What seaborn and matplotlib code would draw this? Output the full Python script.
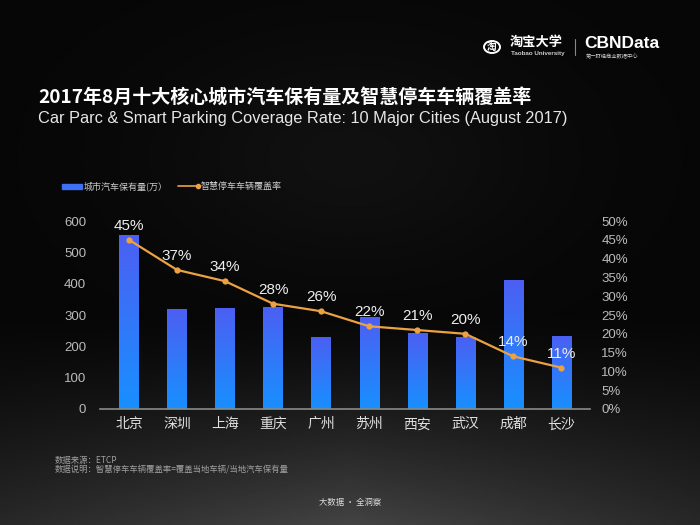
import numpy as np
import pandas as pd
import seaborn as sns
import matplotlib.pyplot as plt
from matplotlib.colors import LinearSegmentedColormap

cities = ['北京', '深圳', '上海', '重庆', '广州', '苏州', '西安', '武汉', '成都', '长沙']
car_parc = [555, 318, 322, 327, 230, 293, 242, 231, 411, 234]
coverage = [45, 37, 34, 28, 26, 22, 21, 20, 14, 11]

df = pd.DataFrame({'city': cities, 'parc': car_parc, 'rate': coverage})

sns.set_theme(style="white")
plt.rcParams['font.family'] = ['Noto Sans CJK SC', 'DejaVu Sans']
latin = ['Liberation Sans', 'DejaVu Sans']

fig = plt.figure(figsize=(7, 5.25), dpi=100)

# background: dark with lighter floor at the bottom
bg = fig.add_axes([0, 0, 1, 1], zorder=-10)
yy, xx = np.mgrid[0:1:300j, 0:1:400j]
glow = np.clip((yy - 0.6) / 0.4, 0, 1) ** 1.3 * (1 - 0.45 * np.abs(xx - 0.5) * 2) * 0.24
top = np.exp(-((xx - 0.5) ** 2 / 0.08 + (yy - 0.3) ** 2 / 0.05)) * 0.04
bg.imshow(0.025 + glow + top, cmap='gray', vmin=0, vmax=1, aspect='auto', extent=[0, 1, 0, 1], origin='upper')
bg.axis('off')

ax = fig.add_axes([0.143, 0.221, 0.70, 0.358])
ax.set_facecolor('none')
sns.barplot(data=df, x='city', y='parc', ax=ax, color='#3f6ff5', width=0.4, saturation=1, linewidth=0)

# vertical gradient inside each bar
cmap = LinearSegmentedColormap.from_list('bars', ['#1890ff', '#4c5ff2'])
grad = np.linspace(0, 1, 256).reshape(-1, 1)
for p in ax.patches:
    x0, w, h = p.get_x(), p.get_width(), p.get_height()
    im = ax.imshow(grad, cmap=cmap, aspect='auto', origin='lower',
                   extent=[x0, x0 + w, 0, h], zorder=p.get_zorder() + 0.1)
    im.set_clip_path(p)

ax.set_xlim(-0.6, 9.6)
ax.set_ylim(0, 600)
ax.set_yticks([0, 100, 200, 300, 400, 500, 600])
ax.set_xlabel('')
ax.set_ylabel('')
ax.tick_params(axis='y', colors='#bbbbbb', labelsize=9.5, length=0, pad=10)
ax.tick_params(axis='x', colors='#e0e0e0', labelsize=10, length=0, pad=6)
for lbl in ax.get_yticklabels():
    lbl.set_family(latin)
for s in ['top', 'right', 'left']:
    ax.spines[s].set_visible(False)
ax.spines['bottom'].set_color('#8a8a8a')
ax.spines['bottom'].set_linewidth(1.2)

ax2 = ax.twinx()
sns.lineplot(x=np.arange(len(cities)), y=df['rate'], ax=ax2, color='#eca142',
             linewidth=1.6, marker='o', markersize=4.5, markeredgewidth=0)
ax2.set_ylim(0, 50)
ax2.set_yticks(range(0, 51, 5))
ax2.set_yticklabels([f'{v}%' for v in range(0, 51, 5)], family=latin)
ax2.set_ylabel('')
ax2.tick_params(axis='y', colors='#bbbbbb', labelsize=9.5, length=0, pad=8)
for s in ax2.spines.values():
    s.set_visible(False)
for i, v in enumerate(coverage):
    ax2.annotate(f'{v}%', (i, v), xytext=(0, 5), textcoords='offset points',
                 ha='center', va='bottom', color='#eeeeee', fontsize=11, family=latin)

# legend
fig.patches.append(plt.Rectangle((62 / 700, 1 - 188.5 / 525), 20 / 700, 5 / 525,
                                 transform=fig.transFigure, color='#3f6ff5'))
fig.text(84 / 700, 1 - 186 / 525, '城市汽车保有量(万）', color='#cccccc', fontsize=6.5, va='center')
fig.lines.append(plt.Line2D([178 / 700, 198 / 700], [1 - 186 / 525] * 2, transform=fig.transFigure,
                            color='#eca142', lw=1.2, marker='o', markersize=3, markevery=[1]))
fig.text(201 / 700, 1 - 186 / 525, '智慧停车车辆覆盖率', color='#cccccc', fontsize=6.5, va='center')

# titles
fig.text(38 / 700, 1 - 97 / 525, '2017年8月十大核心城市汽车保有量及智慧停车车辆覆盖率',
         color='white', fontsize=13.7, fontweight='bold', va='center')
fig.text(38 / 700, 1 - 118 / 525, 'Car Parc & Smart Parking Coverage Rate: 10 Major Cities (August 2017)',
         color='#e6e6e6', fontsize=11.8, va='center', family=latin)

# logos
fig.patches.append(plt.Circle((492 / 700, 1 - 47 / 525), 8 / 700, transform=fig.transFigure,
                              fill=False, ec='white', lw=1.4))
fig.text(492 / 700, 1 - 47 / 525, '淘', color='white', fontsize=7, ha='center', va='center', fontweight='bold')
fig.text(510 / 700, 1 - 42 / 525, '淘宝大学', color='white', fontsize=9.5, va='center', fontweight='bold')
fig.text(511 / 700, 1 - 54 / 525, 'Taobao University', color='#cccccc', fontsize=4.5, va='center',
         family=latin, fontweight='bold')
fig.lines.append(plt.Line2D([575 / 700, 575 / 700], [1 - 39 / 525, 1 - 55 / 525],
                            transform=fig.transFigure, color='#888888', lw=0.8))
fig.text(584 / 700, 1 - 44 / 525, 'CBNData', color='white', fontsize=12.5, va='center',
         fontweight='bold', family=latin)
fig.text(586 / 700, 1 - 56 / 525, '第一财经商业数据中心', color='#cccccc', fontsize=3.8, va='center')

# notes
fig.text(55 / 700, 1 - 461 / 525, '数据来源：ETCP', color='#a0a0a0', fontsize=6, va='center')
fig.text(55 / 700, 1 - 470 / 525, '数据说明：智慧停车车辆覆盖率=覆盖当地车辆/当地汽车保有量',
         color='#a0a0a0', fontsize=6, va='center')
fig.text(350 / 700, 1 - 503 / 525, '大数据 · 全洞察', color='#dddddd', fontsize=6, va='center', ha='center')

fig.savefig('out.png', dpi=100)
